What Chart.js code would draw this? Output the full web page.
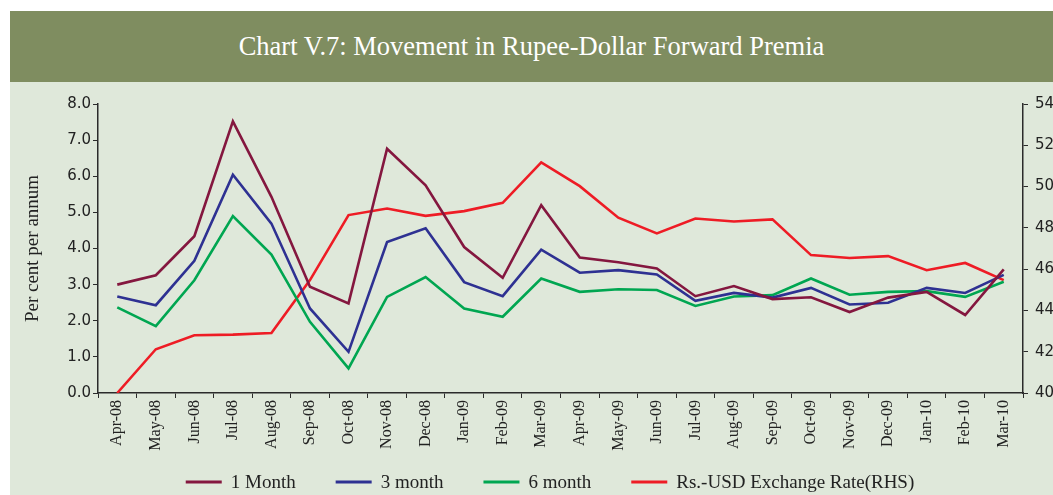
<!DOCTYPE html>
<html lang="en">
<head>
    <meta charset="UTF-8">
    <title>Chart V.7: Movement in Rupee-Dollar Forward Premia</title>
    <style>
        body {
            margin: 0;
            padding: 0;
            background: #ffffff;
            width: 1053px;
            height: 495px;
            overflow: hidden;
        }
        #header {
            position: absolute;
            left: 10px;
            top: 11px;
            width: 1043px;
            height: 71px;
            background: #7f8d60;
            color: #ffffff;
            font-family: "Liberation Serif", serif;
            font-size: 26.5px;
            line-height: 71px;
            text-align: center;
        }
        #panel {
            position: absolute;
            left: 10px;
            top: 82px;
            width: 1043px;
            height: 413px;
            background: #dfe8da;
        }
    </style>
</head>
<body>
    <div id="header">Chart V.7: Movement in Rupee-Dollar Forward Premia</div>
    <div id="panel">
        <canvas id="fwdChart" width="1043" height="413"></canvas>
    </div>

    <script src="https://cdn.jsdelivr.net/npm/chart.js"></script>
    <script>
        // months
        const months = ['Apr-08', 'May-08', 'Jun-08', 'Jul-08', 'Aug-08', 'Sep-08', 'Oct-08', 'Nov-08',
            'Dec-08', 'Jan-09', 'Feb-09', 'Mar-09', 'Apr-09', 'May-09', 'Jun-09', 'Jul-09',
            'Aug-09', 'Sep-09', 'Oct-09', 'Nov-09', 'Dec-09', 'Jan-10', 'Feb-10', 'Mar-10'];

        // forward premia, per cent per annum
        const oneMonth = [3.0, 3.26, 4.34, 7.52, 5.43, 2.94, 2.48, 6.76, 5.75, 4.04, 3.19, 5.2,
            3.75, 3.62, 3.45, 2.68, 2.96, 2.6, 2.65, 2.24, 2.64, 2.8, 2.16, 3.42];
        const threeMonth = [2.67, 2.43, 3.66, 6.04, 4.69, 2.34, 1.14, 4.18, 4.56, 3.07, 2.68, 3.97,
            3.33, 3.4, 3.28, 2.55, 2.77, 2.64, 2.91, 2.45, 2.5, 2.91, 2.77, 3.27];
        const sixMonth = [2.37, 1.85, 3.12, 4.9, 3.83, 1.97, 0.68, 2.66, 3.21, 2.34, 2.11, 3.17,
            2.8, 2.87, 2.85, 2.41, 2.67, 2.71, 3.17, 2.72, 2.8, 2.82, 2.66, 3.08];

        // Rs./USD (right axis)
        const exchRate = [40.0, 42.12, 42.8, 42.83, 42.91, 45.47, 48.62, 48.94, 48.58, 48.81, 49.21, 51.17,
            50.02, 48.49, 47.73, 48.45, 48.31, 48.41, 46.68, 46.54, 46.63, 45.95, 46.3, 45.47];

        const axisColor = '#2b2b2b';

        function line(label, data, color, axis) {
            return {
                label: label,
                data: data,
                borderColor: color,
                backgroundColor: color,
                borderWidth: 2.6,
                pointRadius: 0,
                tension: 0,
                yAxisID: axis
            };
        }

        // one-row legend under the month labels, wide gaps between items
        const lineLegend = {
            id: 'lineLegend',
            afterDraw(chart) {
                const c = chart.ctx;
                const items = chart.data.datasets;
                const swatch = 36, textGap = 9, itemGap = 40;
                c.save();
                c.font = '19px "Liberation Serif"';
                c.textBaseline = 'middle';
                const widths = items.map(d => swatch + textGap + c.measureText(d.label).width);
                const total = widths.reduce((a, b) => a + b, 0) + itemGap * (items.length - 1);
                let x = 540 - total / 2;
                const y = 400;
                items.forEach((d, i) => {
                    c.fillStyle = d.borderColor;
                    c.fillRect(x, y - 1.5, swatch, 3);
                    c.fillStyle = '#222';
                    c.fillText(d.label, x + swatch + textGap, y + 1);
                    x += widths[i] + itemGap;
                });
                c.restore();
            }
        };

        const ctx = document.getElementById('fwdChart').getContext('2d');
        new Chart(ctx, {
            type: 'line',
            data: {
                labels: months,
                datasets: [
                    line('1 Month', oneMonth, '#84173f', 'y'),
                    line('3 month', threeMonth, '#2e3192', 'y'),
                    line('6 month', sixMonth, '#00a651', 'y'),
                    line('Rs.-USD Exchange Rate(RHS)', exchRate, '#ee1c25', 'y1')
                ]
            },
            plugins: [lineLegend],
            options: {
                responsive: false,
                animation: false,
                layout: {
                    padding: { top: 22, right: 0, bottom: 33, left: 0 }
                },
                plugins: {
                    tooltip: { enabled: false },
                    legend: { display: false }
                },
                scales: {
                    x: {
                        offset: true,
                        grid: {
                            offset: true,
                            drawOnChartArea: false,
                            drawTicks: true,
                            tickLength: 5,
                            color: axisColor
                        },
                        border: { display: true, color: axisColor, width: 1.5 },
                        ticks: {
                            color: '#222',
                            font: { family: 'Liberation Serif', size: 16 },
                            minRotation: 90,
                            maxRotation: 90,
                            autoSkip: false,
                            padding: 2
                        },
                        afterFit: function(scale) { scale.height = 69; }
                    },
                    y: {
                        position: 'left',
                        min: 0,
                        max: 8,
                        grid: {
                            drawOnChartArea: false,
                            drawTicks: true,
                            tickLength: 5,
                            color: axisColor
                        },
                        border: { display: true, color: axisColor, width: 1.5 },
                        ticks: {
                            stepSize: 1,
                            color: '#222',
                            font: { family: 'DejaVu Sans', size: 15 },
                            padding: 2,
                            callback: function(value) { return value.toFixed(1); }
                        },
                        title: {
                            display: true,
                            text: 'Per cent per annum',
                            color: '#222',
                            font: { family: 'Liberation Serif', size: 19 },
                            padding: { top: 12, bottom: 0 }
                        },
                        afterFit: function(scale) { scale.width = 88; }
                    },
                    y1: {
                        position: 'right',
                        min: 40,
                        max: 54,
                        grid: {
                            drawOnChartArea: false,
                            drawTicks: true,
                            tickLength: 5,
                            color: axisColor
                        },
                        border: { display: true, color: axisColor, width: 1.5 },
                        ticks: {
                            stepSize: 2,
                            color: '#222',
                            font: { family: 'DejaVu Sans', size: 15 },
                            padding: 7
                        },
                        afterFit: function(scale) { scale.width = 30; }
                    }
                }
            }
        });
    </script>
</body>
</html>
